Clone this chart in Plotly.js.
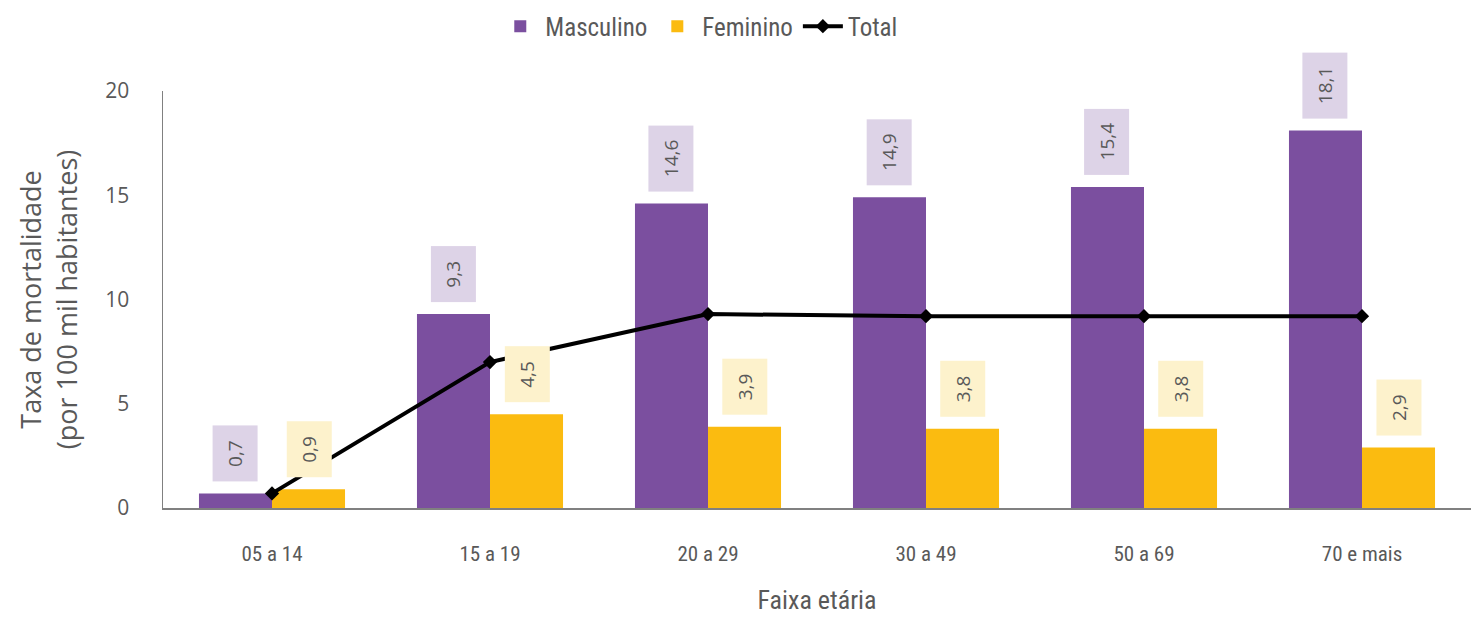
<!DOCTYPE html>
<html>
<head>
<meta charset="utf-8">
<script src="https://cdn.plot.ly/plotly-3.0.1.min.js"></script>
<style>html,body{margin:0;padding:0;background:#fff;}#chart{width:1474px;height:621px;}</style>
</head>
<body>
<div id="chart"></div>
<script>
var categories = ["05 a 14", "15 a 19", "20 a 29", "30 a 49", "50 a 69", "70 e mais"];
var masculino = [0.7, 9.3, 14.6, 14.9, 15.4, 18.1];
var feminino = [0.9, 4.5, 3.9, 3.8, 3.8, 2.9];
var total = [0.7, 7.0, 9.3, 9.2, 9.2, 9.2];
var yTicks = [0, 5, 10, 15, 20];

var narrow = "'Liberation Sans Narrow', 'Roboto Condensed', 'Arial Narrow', Lato, sans-serif";
var gray = "#595959";

var traces = [
  {type: "bar", name: "Masculino", x: categories, y: masculino,
   marker: {color: "#7B4F9F"}, hoverinfo: "none"},
  {type: "bar", name: "Feminino", x: categories, y: feminino,
   marker: {color: "#FBBB10"}, hoverinfo: "none"},
  {type: "scatter", mode: "lines+markers", name: "Total", x: categories, y: total,
   line: {color: "#000000", width: 4},
   marker: {symbol: "diamond", size: 11, color: "#000000"}, hoverinfo: "none"}
];

function fmt(v) { return v.toFixed(1).replace(".", ","); }

var annotations = [];
var pad = "\u00A0";
categories.forEach(function (c, i) {
  annotations.push({
    x: c, y: masculino[i], xref: "x", yref: "y", xshift: -37, yshift: 11,
    text: pad + fmt(masculino[i]) + pad, textangle: -90, showarrow: false,
    xanchor: "center", yanchor: "bottom",
    bgcolor: "#DDD3E7", borderpad: 9,
    font: {family: "'Open Sans', sans-serif", size: 19, color: gray}
  });
  annotations.push({
    x: c, y: feminino[i], xref: "x", yref: "y", xshift: 37, yshift: 11,
    text: pad + fmt(feminino[i]) + pad, textangle: -90, showarrow: false,
    xanchor: "center", yanchor: "bottom",
    bgcolor: "#FDF2CC", borderpad: 9,
    font: {family: "'Open Sans', sans-serif", size: 19, color: gray}
  });
});

var layout = {
  width: 1474, height: 621,
  margin: {l: 163, r: 3, t: 88, b: 113},
  paper_bgcolor: "#ffffff", plot_bgcolor: "#ffffff",
  barmode: "group", bargap: 0.33, bargroupgap: 0,
  showlegend: true,
  legend: {orientation: "h", x: 0.41, xanchor: "center", y: 1.21, yanchor: "top",
           font: {family: narrow, size: 25, color: gray}, traceorder: "normal",
           itemwidth: 40},
  xaxis: {
    type: "category", showline: true, linecolor: "#808080", linewidth: 1.5,
    ticks: "", showgrid: false, zeroline: false, ticklabelstandoff: 26,
    tickfont: {family: narrow, size: 21, color: gray},
    title: {text: "Faixa etária", font: {family: narrow, size: 26, color: gray}, standoff: 26}
  },
  yaxis: {
    range: [0, 20], tickvals: yTicks, ticktext: yTicks.map(String),
    showline: true, linecolor: "#808080", linewidth: 1.5,
    ticks: "", showgrid: false, zeroline: false, ticklabelstandoff: 28,
    tickfont: {family: "'Open Sans', sans-serif", size: 21, color: gray},
    title: {text: "Taxa de mortalidade<br>(por 100 mil habitantes)",
            font: {family: "'Open Sans', sans-serif", size: 27, color: gray}, standoff: 20}
  },
  annotations: annotations
};

Plotly.newPlot("chart", traces, layout, {staticPlot: true, displayModeBar: false});
</script>
</body>
</html>
